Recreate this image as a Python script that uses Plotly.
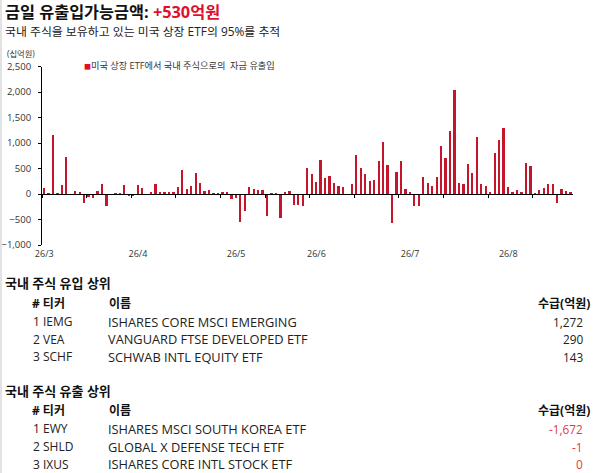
import plotly.graph_objects as go

W, H = 594, 473

# ---------------- data ----------------
flow_values = [118, 30, 1166, 20, 183, 740, 0, 65, 40, -177,
               -46, -79, 65, 203, -223, 0, 20, 33, 183, -40,
               -20, 183, 131, 0, 46, 203, 46, 46, 46, 46,
               150, 478, 111, 164, 413, 229, 65, 85, 26, 26,
               40, 40, -98, -79, -537, -321, 144, 105, 85, 85,
               -420, 20, 20, -455, 46, 65, -210, -210, -223, 511,
               400, 242, 675, 314, 354, 229, 164, 144, 0, 203,
               773, 517, 400, 262, 282, 655, 1028, 576, -557, 445,
               655, 105, 46, -223, -223, 341, 229, 170, 341, 956,
               714, 1251, 2050, 223, 203, 596, 419, 1127, 203, 164,
               46, 812, 1068, 1303, 144, 46, 85, 46, 616, 557,
               20, 85, 124, 203, 203, -177, 105, 65, 46]
day_index = list(range(len(flow_values)))
month_tick_index = [0, 21, 43, 61, 82, 104]
month_tick_labels = ["26/3", "26/4", "26/5", "26/6", "26/7", "26/8"]
y_tick_values = [-1000, -500, 0, 500, 1000, 1500, 2000, 2500]
series_name = "미국 상장 ETF에서 국내 주식으로의  자금 유출입"

inflow_rank = [1, 2, 3]
inflow_ticker = ["IEMG", "VEA", "SCHF"]
inflow_name = ["ISHARES CORE MSCI EMERGING", "VANGUARD FTSE DEVELOPED ETF", "SCHWAB INTL EQUITY ETF"]
inflow_value = [1272, 290, 143]

outflow_rank = [1, 2, 3]
outflow_ticker = ["EWY", "SHLD", "IXUS"]
outflow_name = ["ISHARES MSCI SOUTH KOREA ETF", "GLOBAL X DEFENSE TECH ETF", "ISHARES CORE INTL STOCK ETF"]
outflow_value = [-1672, -1, 0]

today_amount = "+530억원"

# ---------------- style ----------------
FONT = "Open Sans, Noto Sans CJK KR, sans-serif"
BAR = "#c4152b"
RED = "#e0102d"
RED2 = "#e03a46"
TXT = "#222222"

def xp(px):
    return px / W

def yp(px):
    return 1 - px / H

y_min, y_max = -1000, 2500
ydom = [yp(245), yp(66.7)]
xdom = [xp(42), xp(573)]
zero_pos = ydom[0] + (0 - y_min) / (y_max - y_min) * (ydom[1] - ydom[0])
x_range = [-0.5, len(flow_values) - 0.5]
boundary_ticks = [i - 0.5 for i in range(0, len(flow_values) + 1, 10)]

fig = go.Figure()
fig.add_trace(go.Bar(x=day_index, y=flow_values, marker_color=BAR, marker_line_width=0,
                     width=0.4, showlegend=False, hoverinfo="skip"))
# invisible companion trace so the zero-line axis (x2) is drawn
fig.add_trace(go.Scatter(x=day_index, y=flow_values, xaxis="x2", mode="markers",
                         marker=dict(opacity=0, size=1), showlegend=False, hoverinfo="skip"))

fig.update_layout(
    template="none",
    width=W, height=H, margin=dict(l=0, r=0, t=0, b=0, autoexpand=False),
    paper_bgcolor="white", plot_bgcolor="white",
    font=dict(family=FONT, color=TXT),
    bargap=0,
    xaxis=dict(domain=xdom, range=x_range, showline=False, showgrid=False, zeroline=False,
               automargin=False, ticks="", tickvals=month_tick_index, ticktext=month_tick_labels,
               ticklabelstandoff=2, tickfont=dict(size=9, color="#333333"), fixedrange=True),
    xaxis2=dict(domain=xdom, range=x_range, overlaying="x", anchor="free", position=zero_pos,
                automargin=False, showline=True, linecolor="black", linewidth=1, showgrid=False,
                zeroline=False, ticks="outside", ticklen=3, tickcolor="black", tickwidth=1,
                tickvals=boundary_ticks, showticklabels=False),
    yaxis=dict(domain=ydom, range=[y_min, y_max], showline=True, linecolor="black", linewidth=1,
               automargin=False, showgrid=False, zeroline=False, ticks="outside", ticklen=3,
               tickcolor="black", tickvals=y_tick_values, tickformat=",", ticklabelstandoff=5,
               tickfont=dict(size=9.5, color="#333333")),
)

ann = []
def add_text(text, x, y, size, anchor="left", bold=False, color=TXT):
    t = f"<b>{text}</b>" if bold else text
    ann.append(dict(text=t, x=xp(x), y=yp(y), xref="paper", yref="paper", xanchor=anchor,
                    yanchor="middle", showarrow=False, font=dict(size=size, color=color, family=FONT)))

add_text(f"금일 유출입가능금액: <span style='color:{RED}'>{today_amount}</span>", 3, 12, 16.3, bold=True, color="#111111")
add_text("국내 주식을 보유하고 있는 미국 상장 ETF의 95%를 추적", 3, 31.5, 11.9)
add_text("(십억원)", 5, 53.5, 8.3, color="#333333")
add_text(f"<span style='color:{RED};font-size:7px'>■</span>{series_name}", 81.5, 65.5, 9.2, color="#333333")

def add_table(title, top, ranks, tickers, names, values, vcolor):
    add_text(title, 3, top, 13, bold=True, color="#111111")
    add_text("# 티커", 30, top + 19.7, 12, bold=True, color="#111111")
    add_text("이름", 107, top + 19.7, 12, bold=True, color="#111111")
    add_text("수급(억원)", 592, top + 19.7, 12, anchor="right", bold=True, color="#111111")
    for k, (r, tk, nm, v) in enumerate(zip(ranks, tickers, names, values)):
        yy = top + 38.4 + k * 17.6
        add_text(f"{r} {tk}", 31, yy, 12)
        add_text(nm, 106, yy, 12.8)
        add_text(f"{v:,}", 585, yy, 11.8, anchor="right", color=vcolor)

add_table("국내 주식 유입 상위", 283.3, inflow_rank, inflow_ticker, inflow_name, inflow_value, TXT)
add_table("국내 주식 유출 상위", 390.5, outflow_rank, outflow_ticker, outflow_name, outflow_value, RED2)

fig.update_layout(annotations=ann)
fig.add_shape(type="line", xref="paper", yref="paper", x0=xp(1), x1=xp(1), y0=0, y1=1,
              line=dict(color="#d9d9d9", width=1.5))

fig.write_html("out.html", config={"displayModeBar": False},
               post_script="document.body.style.margin='0';document.body.style.overflow='hidden';")
